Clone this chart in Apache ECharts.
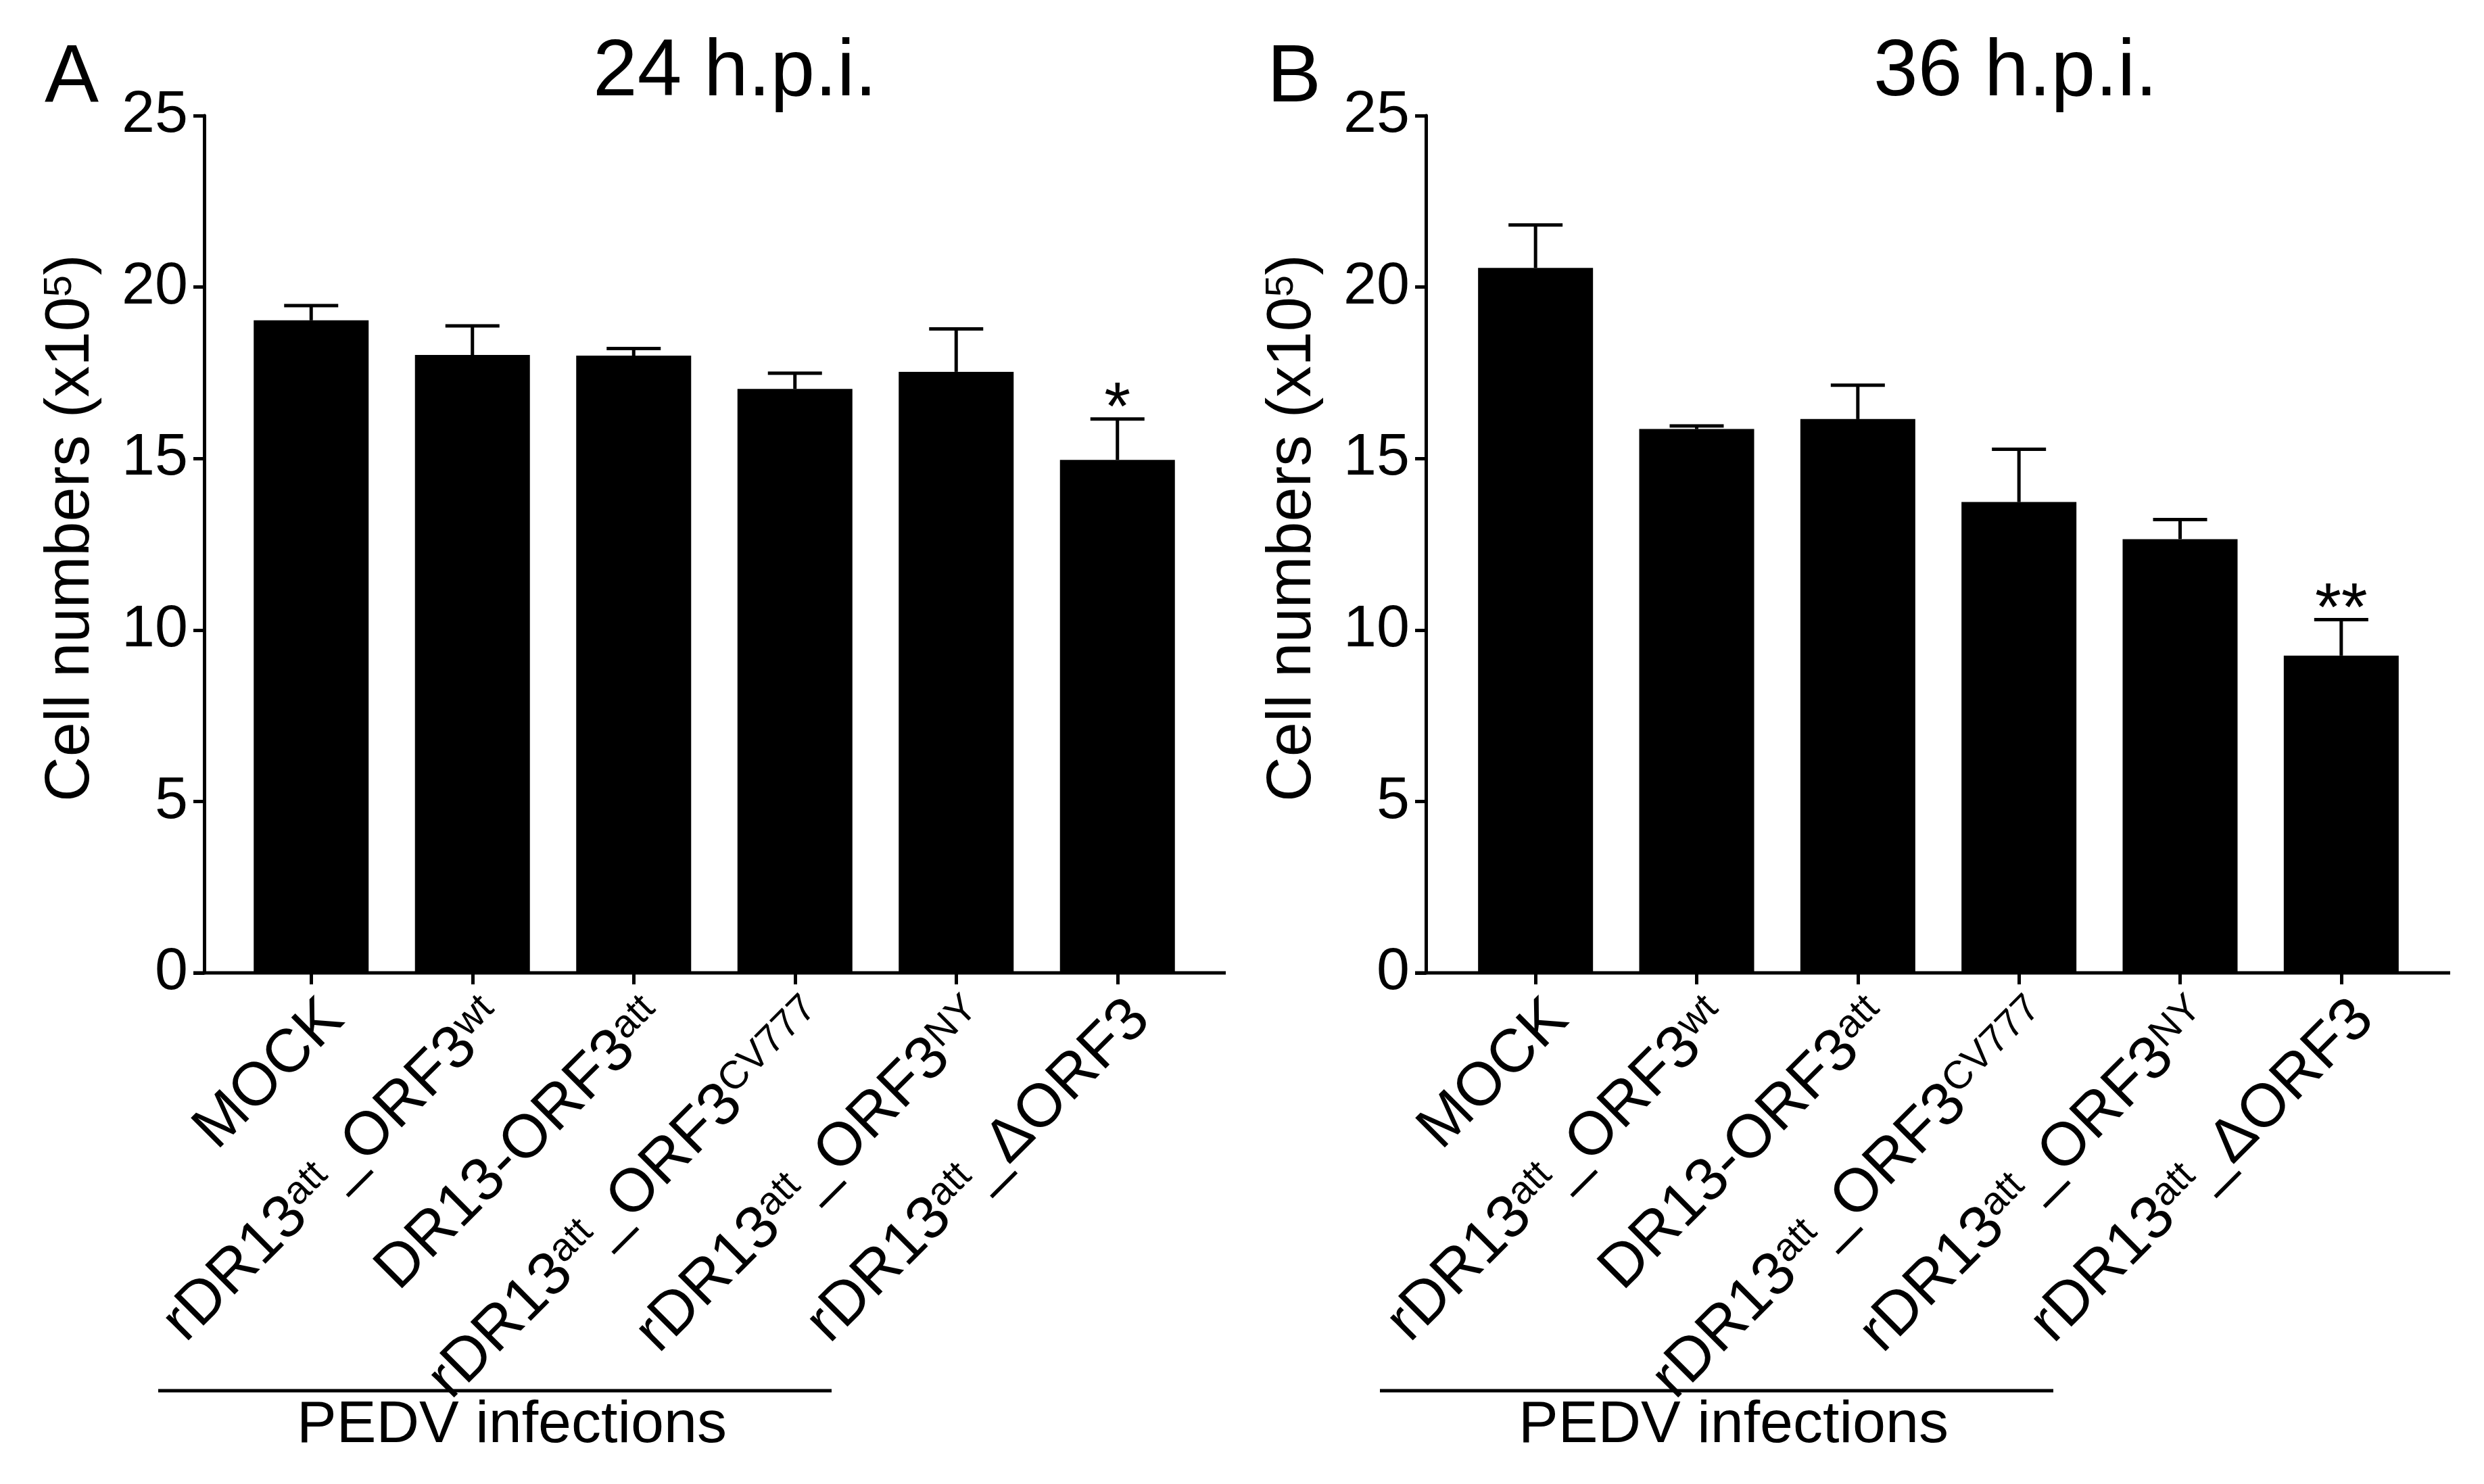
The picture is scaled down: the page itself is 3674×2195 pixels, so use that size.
<!DOCTYPE html>
<html>
<head>
<meta charset="utf-8">
<script src="https://cdn.jsdelivr.net/npm/echarts@6/dist/echarts.min.js"></script>
<style>
  html, body { margin: 0; padding: 0; background: #fff; }
  #chart { width: 3674px; height: 2195px; }
</style>
</head>
<body>
<div id="chart"></div>
<script>
// categories (rich text, {s|..} = superscript)
var categories = [
    'MOCK',
    'rDR13{s|att}_ORF3{s|wt}',
    'DR13-ORF3{s|att}',
    'rDR13{s|att}_ORF3{s|CV777}',
    'rDR13{s|att}_ORF3{s|NY}',
    'rDR13{s|att}_\u0394ORF3'
];
var yTicks = [0, 5, 10, 15, 20, 25];

// 24 h.p.i.
var meanA = [19.03, 18.02, 18.00, 17.03, 17.53, 14.96];
var sdA = [0.43, 0.85, 0.21, 0.46, 1.25, 1.19];
var sigA = ['', '', '', '', '', '*'];

// 36 h.p.i.
var meanB = [20.56, 15.86, 16.15, 13.73, 12.65, 9.25];
var sdB = [1.25, 0.09, 0.99, 1.54, 0.57, 1.05];
var sigB = ['', '', '', '', '', '**'];

var FONT = 'Liberation Sans, Arial, sans-serif';
var TOP = 171, BOTTOM = 1439;

// layout of the two panels
var panels = [
    { title: '24 h.p.i.', letter: 'A', axisX: 302, left: 341, right: 1772, lineEnd: 1813, titleX: 1087, letterX: 66, brX1: 234, brX2: 1230, mean: meanA, sd: sdA, sig: sigA },
    { title: '36 h.p.i.', letter: 'B', axisX: 2109, left: 2152, right: 3582, lineEnd: 3624, titleX: 2981, letterX: 1874, brX1: 2041, brX2: 3037, mean: meanB, sd: sdB, sig: sigB }
];

function errorItem(sig) {
    return function (params, api) {
        var m = api.value(1), sd = api.value(2);
        var base = api.coord([api.value(0), m]);
        var top = api.coord([api.value(0), m + sd]);
        var half = 40;
        var kids = [
            { type: 'line', shape: { x1: base[0], y1: base[1], x2: top[0], y2: top[1] }, style: { stroke: '#000', lineWidth: 5 } },
            { type: 'line', shape: { x1: top[0] - half, y1: top[1], x2: top[0] + half, y2: top[1] }, style: { stroke: '#000', lineWidth: 5 } }
        ];
        if (sig[params.dataIndex]) {
            kids.push({
                type: 'text',
                style: { text: sig[params.dataIndex], x: top[0], y: top[1] - 12, align: 'center', verticalAlign: 'middle', fontSize: 100, fontFamily: FONT, fill: '#000' }
            });
        }
        return { type: 'group', children: kids };
    };
}

var grids = [], xAxes = [], yAxes = [], series = [], graphics = [];

panels.forEach(function (p, k) {
    grids.push({ left: p.left, width: p.right - p.left, top: TOP, height: BOTTOM - TOP });
    xAxes.push({
        type: 'category',
        gridIndex: k,
        data: categories,
        axisLine: { show: false },
        axisTick: { show: true, alignWithLabel: true, length: 17, lineStyle: { color: '#000', width: 5 } },
        axisLabel: {
            rotate: 45,
            margin: 21,
            interval: 0,
            padding: [96, 0, 0, 0],
            color: '#000',
            fontSize: 90,
            fontFamily: FONT,
            rich: {
                s: { fontSize: 58, fontFamily: FONT, color: '#000', verticalAlign: 'top' }
            }
        }
    });
    yAxes.push({
        type: 'value',
        gridIndex: k,
        min: yTicks[0],
        max: yTicks[yTicks.length - 1],
        interval: 5,
        offset: p.left - p.axisX,
        splitLine: { show: false },
        axisLine: { show: true, lineStyle: { color: '#000', width: 5 } },
        axisTick: { show: true, length: 16, lineStyle: { color: '#000', width: 5 } },
        axisLabel: { color: '#000', fontSize: 88, fontFamily: FONT, margin: 24 },
        name: 'Cell numbers (x10{s|5})',
        nameLocation: 'middle',
        nameRotate: 90,
        nameGap: 150,
        nameTextStyle: {
            color: '#000', fontSize: 92, fontFamily: FONT,
            padding: [0, 0, 0, 48],
            rich: { s: { fontSize: 58, fontFamily: FONT, color: '#000', verticalAlign: 'top' } }
        }
    });
    series.push({
        type: 'bar',
        xAxisIndex: k,
        yAxisIndex: k,
        data: p.mean,
        barWidth: 170,
        itemStyle: { color: '#000' },
        silent: true
    });
    series.push({
        type: 'custom',
        xAxisIndex: k,
        yAxisIndex: k,
        renderItem: errorItem(p.sig),
        data: p.mean.map(function (v, i) { return [i, v, p.sd[i]]; }),
        z: 3,
        silent: true
    });

    // x axis line (runs a little past the plot on both sides)
    graphics.push({ type: 'line', shape: { x1: p.axisX - 16, y1: BOTTOM, x2: p.lineEnd, y2: BOTTOM }, style: { stroke: '#000', lineWidth: 5 } });
    // panel letter and title
    graphics.push({ type: 'text', x: p.letterX, y: 117, style: { text: p.letter, fontSize: 120, fontFamily: FONT, fill: '#000', verticalAlign: 'middle' } });
    graphics.push({ type: 'text', x: p.titleX, y: 108, style: { text: p.title, fontSize: 118, fontFamily: FONT, fill: '#000', align: 'center', verticalAlign: 'middle' } });
    // group bracket
    graphics.push({ type: 'line', shape: { x1: p.brX1, y1: 2057, x2: p.brX2, y2: 2057 }, style: { stroke: '#000', lineWidth: 5 } });
    graphics.push({ type: 'text', x: (p.brX1 + p.brX2) / 2 + 25, y: 2109, style: { text: 'PEDV infections', fontSize: 88, fontFamily: FONT, fill: '#000', align: 'center', verticalAlign: 'middle' } });
});

var chart = echarts.init(document.getElementById('chart'));
chart.setOption({
    backgroundColor: '#fff',
    animation: false,
    grid: grids,
    xAxis: xAxes,
    yAxis: yAxes,
    series: series,
    graphic: graphics
});
</script>
</body>
</html>
